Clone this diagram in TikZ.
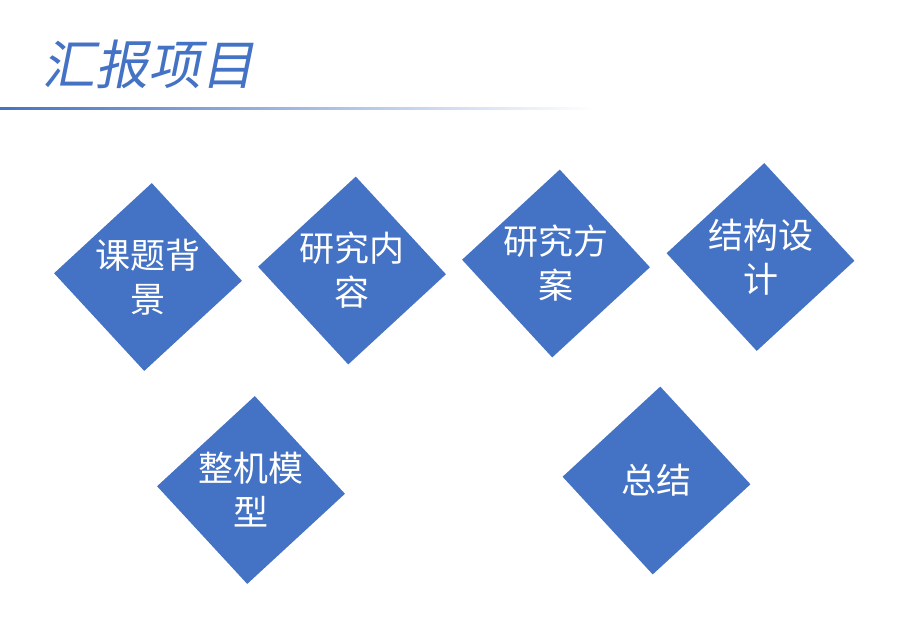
\documentclass[tikz,border=0pt]{standalone}
\usepackage{fontspec}
\usetikzlibrary{shapes.geometric}
\newfontfamily\cjk{Noto Sans CJK SC}
\newfontfamily\cjkslant[FakeSlant=0.2]{Noto Sans CJK SC}
\definecolor{itemblue}{HTML}{4472C4}
\tikzset{
  item/.style={regular polygon, regular polygon sides=4, shape border rotate=42.7,
    minimum size=188pt, inner sep=0pt, fill=itemblue},
  itemtext/.style={text=white, align=center, font=\cjk\fontsize{35}{44}\selectfont}
}

\begin{document}
\begin{tikzpicture}[x=1pt,y=-1pt]
				\useasboundingbox (0,0) rectangle (920,637);

				% Title
				\node[anchor=west, inner sep=0pt, text=itemblue,
				  font=\cjkslant\fontsize{53}{60}\selectfont] (title) at (42,64.5) {汇报项目};
				\shade[left color=itemblue, right color=white] (0,107.7) rectangle (595,109.7);

				% Nodes
				\node[item, label={[itemtext]center:{课题背\\景}}] (bg) at (148,277) {};
				\node[item, label={[itemtext]center:{研究内\\容}}] (nr) at (352,270.5) {};
				\node[item, label={[itemtext]center:{研究方\\案}}] (fa) at (556,263.5) {};
				\node[item, label={[itemtext]center:{结构设\\计}}] (sj) at (760.5,257) {};
				\node[item, label={[itemtext]center:{整机模\\型}}] (mx) at (251,490) {};
				\node[item, label={[itemtext]center:{总结}}] (zj) at (656.5,480.5) {};
			\end{tikzpicture}
\end{document}
